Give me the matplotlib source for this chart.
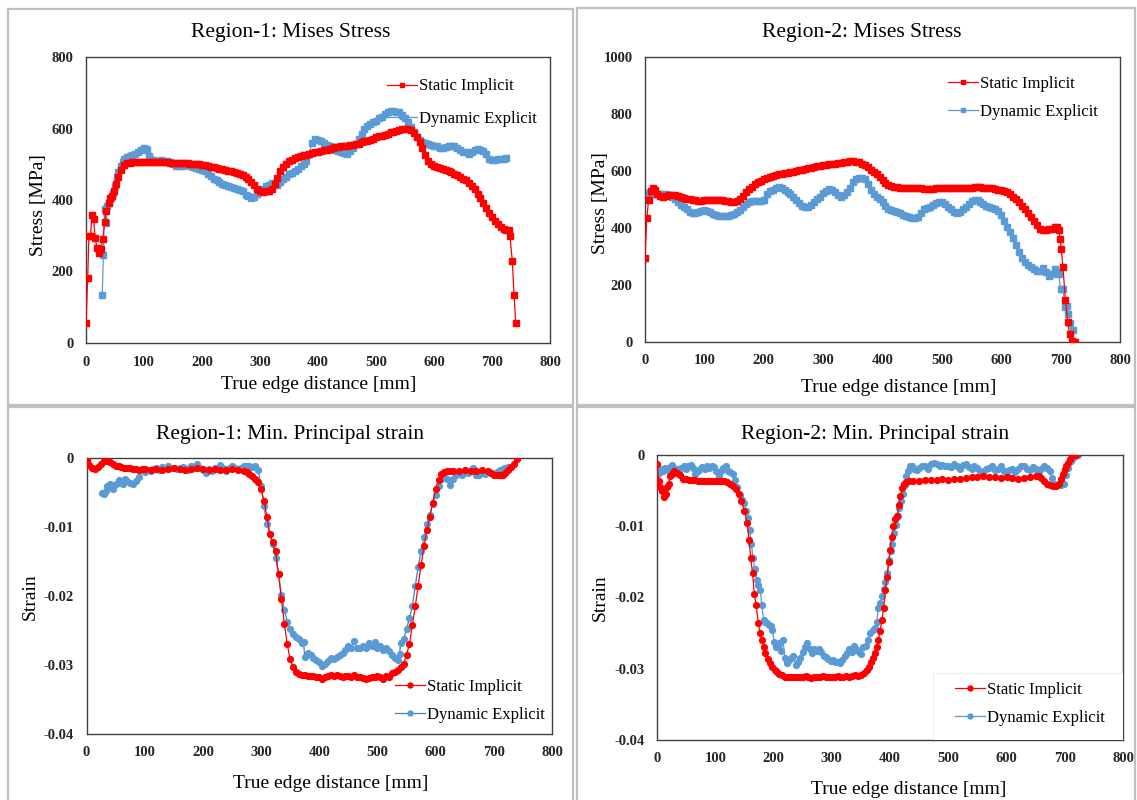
import matplotlib
matplotlib.use("Agg")
import matplotlib.pyplot as plt
from matplotlib.patches import Rectangle

plt.rcParams["font.family"] = ["Liberation Serif", "DejaVu Serif"]

RED = "#FF0000"
BLUE = "#5B9BD5"
BLUE_DARK = "#4A7EBB"
LABELS = ["Static Implicit", "Dynamic Explicit"]
XTICKS = [0, 100, 200, 300, 400, 500, 600, 700, 800]

# ---------------- Region-1: Mises stress ----------------
r1_static_x = [0, 3, 5, 8, 10, 13, 16, 19, 22, 26, 29, 32, 35, 39, 42, 45, 48, 52, 56, 60, 65, 70,
               75, 80, 85, 90, 95, 100, 105, 110, 115, 120, 125, 130, 135, 140, 145, 150, 155, 160,
               165, 170, 175, 180, 185, 190, 195, 200, 205, 210, 215, 220, 225, 230, 235, 240, 245,
               250, 255, 260, 265, 270, 275, 280, 285, 290, 295, 300, 305, 310, 315, 320, 325, 330,
               335, 340, 345, 350, 355, 360, 365, 370, 375, 380, 385, 390, 395, 400, 405, 410, 415,
               420, 425, 430, 435, 440, 445, 450, 455, 460, 465, 470, 475, 480, 485, 490, 495, 500,
               505, 510, 515, 520, 525, 530, 535, 540, 545, 550, 555, 560, 565, 570, 575, 580, 585,
               590, 595, 600, 605, 610, 615, 620, 625, 630, 635, 640, 645, 650, 655, 660, 665, 670,
               675, 680, 685, 690, 695, 700, 705, 710, 715, 720, 725, 729, 731, 735, 738, 741]
r1_static_y = [55, 183, 300, 300, 357, 347, 293, 265, 253, 263, 290, 338, 370, 393, 405, 412, 425, 445,
               465, 485, 497, 503, 504, 505, 506, 506, 507, 507, 506, 505, 505, 505, 505, 505, 505,
               505, 504, 504, 504, 503, 503, 503, 503, 502, 502, 501, 500, 499, 497, 495, 493, 492,
               490, 488, 486, 484, 482, 480, 478, 476, 473, 469, 464, 458, 450, 441, 432, 426, 423,
               424, 426, 432, 445, 462, 480, 492, 502, 508, 513, 517, 520, 523, 525, 527, 529, 531,
               533, 535, 537, 539, 541, 543, 545, 547, 549, 550, 551, 552, 553, 555, 556, 558, 561,
               564, 566, 569, 572, 575, 578, 580, 583, 586, 589, 591, 594, 596, 598, 600, 599, 596,
               588, 575, 562, 545, 525, 508, 500, 496, 493, 490, 488, 485, 481, 477, 473, 469, 465,
               460, 455, 448, 440, 430, 418, 405, 392, 378, 364, 352, 341, 332, 325, 319, 316,
               316, 298, 230, 135, 55]

r1_dynamic_x = [28, 30, 32, 35, 37, 40, 43, 46, 50, 53, 56, 60, 63, 66, 70, 75, 80, 85, 90, 95, 100,
                103, 106, 108, 110, 115, 120, 125, 130, 135, 140, 145, 150, 155, 160, 165, 170, 175,
                180, 185, 190, 195, 200, 205, 210, 215, 220, 225, 230, 235, 240, 245, 250, 255, 260,
                265, 270, 275, 280, 285, 290, 295, 300, 305, 310, 315, 320, 325, 330, 335, 340, 345,
                350, 355, 360, 365, 370, 375, 380, 385, 390, 395, 400, 405, 410, 415, 420, 425, 430,
                435, 440, 445, 450, 455, 460, 465, 470, 475, 480, 485, 490, 495, 500, 505, 510, 515,
                520, 525, 530, 535, 540, 545, 550, 555, 560, 565, 570, 575, 580, 585, 590, 595, 600,
                605, 610, 615, 620, 625, 630, 635, 640, 645, 650, 655, 660, 665, 670, 675, 680, 685,
                690, 695, 700, 705, 710, 715, 720, 725]
r1_dynamic_y = [133, 246, 375, 336, 383, 392, 405, 420, 440, 465, 478, 495, 505, 515, 520, 523, 525,
                528, 533, 540, 545, 543, 540, 522, 515, 512, 510, 510, 512, 510, 510, 505, 500, 495,
                494, 495, 498, 498, 496, 493, 490, 487, 484, 480, 472, 467, 460, 455, 450, 445, 442,
                440, 437, 434, 432, 428, 424, 415, 410, 405, 408, 418, 425, 432, 438, 442, 448, 445,
                443, 450, 458, 465, 472, 476, 482, 488, 495, 500, 508, 530, 560, 570, 568, 565, 560,
                555, 552, 547, 540, 537, 535, 532, 530, 538, 545, 558, 570, 585, 598, 606, 613, 618,
                622, 628, 633, 640, 645, 648, 650, 647, 645, 638, 628, 618, 605, 590, 575, 568, 563,
                560, 558, 555, 552, 550, 545, 545, 548, 550, 552, 550, 545, 540, 535, 533, 530, 535,
                540, 543, 540, 538, 528, 515, 512, 513, 515, 515, 516, 517]

# ---------------- Region-2: Mises stress ----------------
r2_static_x = [0, 3, 6, 10, 13, 17, 20, 25, 30, 35, 40, 45, 50, 55, 60, 65, 70, 75, 80, 85, 90, 95,
               100, 105, 110, 115, 120, 125, 130, 135, 140, 145, 150, 155, 160, 165, 170, 175, 180,
               185, 190, 195, 200, 205, 210, 215, 220, 225, 230, 235, 240, 245, 250, 255, 260, 265,
               270, 275, 280, 285, 290, 295, 300, 305, 310, 315, 320, 325, 330, 335, 340, 345, 350,
               355, 360, 365, 370, 375, 380, 385, 390, 395, 400, 405, 410, 415, 420, 425, 430, 435,
               440, 445, 450, 455, 460, 465, 470, 475, 480, 485, 490, 495, 500, 505, 510, 515, 520,
               525, 530, 535, 540, 545, 550, 555, 560, 565, 570, 575, 580, 585, 590, 595, 600, 605,
               610, 615, 620, 625, 630, 635, 640, 645, 650, 655, 660, 665, 670, 675, 680, 685, 690,
               694, 697, 699, 701, 704, 708, 712, 715, 719, 722, 725]
r2_static_y = [293, 434, 498, 530, 542, 533, 520, 512, 510, 512, 515, 516, 515, 512, 510, 505, 502,
               500, 498, 497, 496, 496, 497, 498, 498, 499, 499, 498, 497, 495, 493, 491, 490, 493,
               500, 512, 525, 536, 545, 553, 560, 566, 571, 575, 579, 583, 586, 588, 590, 592, 594,
               596, 598, 600, 603, 605, 608, 610, 612, 614, 616, 618, 620, 622, 623, 625, 626, 627,
               628, 630, 632, 634, 634, 633, 630, 626, 620, 613, 605, 597, 588, 578, 568, 558, 552,
               548, 545, 543, 542, 541, 540, 540, 539, 539, 539, 539, 538, 538, 538, 538, 539, 539,
               539, 540, 540, 540, 540, 540, 540, 541, 541, 542, 542, 543, 543, 543, 542, 541, 540,
               539, 537, 535, 533, 530, 525, 518, 510, 500, 490, 478, 465, 452, 440, 425, 410, 398,
               394, 394, 395, 398, 402, 405, 393, 360, 328, 262, 147, 70, 29, 4, 0, 0]

r2_dynamic_x = [0, 5, 10, 15, 20, 25, 30, 35, 40, 45, 50, 55, 60, 65, 70, 75, 80, 85, 90, 95, 100,
                105, 110, 115, 120, 125, 130, 135, 140, 145, 150, 155, 160, 165, 170, 175, 180, 185,
                190, 195, 200, 205, 210, 215, 220, 225, 230, 235, 240, 245, 250, 255, 260, 265, 270,
                275, 280, 285, 290, 295, 300, 305, 310, 315, 320, 325, 330, 335, 340, 345, 350, 355,
                360, 365, 370, 375, 380, 385, 390, 395, 400, 405, 410, 415, 420, 425, 430, 435, 440,
                445, 450, 455, 460, 465, 470, 475, 480, 485, 490, 495, 500, 505, 510, 515, 520, 525,
                530, 535, 540, 545, 550, 555, 560, 565, 570, 575, 580, 585, 590, 595, 600, 605, 610,
                615, 620, 625, 630, 635, 640, 645, 650, 655, 660, 665, 670, 675, 680, 685, 690, 694,
                697, 700, 704, 707, 710, 713, 716, 720]
r2_dynamic_y = [522, 522, 520, 520, 518, 518, 518, 518, 517, 510, 500, 490, 482, 473, 465, 455, 452,
                453, 457, 460, 462, 458, 455, 450, 446, 443, 442, 442, 443, 446, 450, 455, 462, 472,
                483, 490, 493, 494, 495, 496, 498, 518, 530, 535, 540, 543, 540, 535, 528, 520, 508,
                498, 487, 478, 474, 475, 480, 490, 500, 510, 522, 530, 536, 533, 525, 515, 510, 515,
                528, 540, 560, 572, 575, 574, 572, 555, 535, 520, 510, 500, 490, 478, 467, 462, 458,
                455, 452, 447, 442, 437, 435, 436, 440, 452, 465, 470, 474, 480, 487, 492, 492, 485,
                475, 465, 457, 453, 455, 465, 475, 485, 493, 497, 498, 492, 485, 477, 472, 470, 468,
                460, 445, 425, 405, 385, 365, 340, 315, 295, 280, 270, 262, 255, 248, 250, 258, 245,
                230, 240, 255, 245, 238, 185, 185, 123, 125, 100, 65, 41]

# ---------------- Region-1: min. principal strain ----------------
r1_strain_static_x = [0, 5, 10, 15, 20, 25, 30, 35, 40, 45, 50, 55, 60, 65, 70, 75, 80, 85, 90, 95,
                      100, 110, 120, 130, 140, 150, 160, 170, 180, 190, 200, 210, 220, 230, 240,
                      250, 260, 270, 275, 280, 285, 290, 295, 300, 305, 310, 315, 320, 325, 330,
                      335, 340, 345, 350, 355, 360, 365, 370, 375, 380, 385, 390, 395, 400, 405,
                      410, 415, 420, 425, 430, 435, 440, 445, 450, 455, 460, 465, 470, 475, 480,
                      485, 490, 495, 500, 505, 510, 515, 520, 525, 530, 535, 540, 545, 550, 555,
                      560, 565, 570, 575, 580, 585, 590, 595, 600, 605, 610, 615, 620, 625, 630,
                      640, 650, 660, 670, 680, 690, 695, 700, 705, 710, 715, 720, 725, 730, 735, 740]
r1_strain_static_y = [-0.0003, -0.0010, -0.0014, -0.0016, -0.0013, -0.0008, -0.0005, -0.0004,
                      -0.0006, -0.0009, -0.0011, -0.0012, -0.0013, -0.0014, -0.0015, -0.0015,
                      -0.0016, -0.0016, -0.0017, -0.0016, -0.0016, -0.0017, -0.0016, -0.0017,
                      -0.0016, -0.0015, -0.0016, -0.0017, -0.0016, -0.0015, -0.0016, -0.0017,
                      -0.0016, -0.0017, -0.0017, -0.0016, -0.0017, -0.0019, -0.0020, -0.0023,
                      -0.0026, -0.0030, -0.0035, -0.0045, -0.0062, -0.0085, -0.0110, -0.0122,
                      -0.0135, -0.0168, -0.0205, -0.0240, -0.0270, -0.0292, -0.0303, -0.0310,
                      -0.0313, -0.0314, -0.0315, -0.0316, -0.0316, -0.0316, -0.0317, -0.0318,
                      -0.0320, -0.0317, -0.0316, -0.0315, -0.0316, -0.0315, -0.0316, -0.0317,
                      -0.0316, -0.0316, -0.0317, -0.0315, -0.0318, -0.0317, -0.0319, -0.0321,
                      -0.0319, -0.0317, -0.0318, -0.0316, -0.0318, -0.0320, -0.0316, -0.0318,
                      -0.0312, -0.0310, -0.0307, -0.0303, -0.0298, -0.0285, -0.0270, -0.0242,
                      -0.0215, -0.0185, -0.0155, -0.0128, -0.0105, -0.0085, -0.0065, -0.0045,
                      -0.0032, -0.0023, -0.0020, -0.0019, -0.0019, -0.0019, -0.0019, -0.0018,
                      -0.0019, -0.0019, -0.0018, -0.0019, -0.0022, -0.0024, -0.0025, -0.0025,
                      -0.0024, -0.0022, -0.0018, -0.0013, -0.0008, -0.0001]

r1_strain_dynamic_x = [26, 30, 33, 36, 40, 43, 46, 50, 55, 58, 62, 66, 70, 75, 80, 85, 90, 95, 100,
                       105, 110, 115, 120, 125, 130, 135, 140, 145, 150, 155, 160, 165, 170, 175,
                       180, 185, 190, 195, 200, 205, 210, 215, 220, 225, 230, 235, 240, 245, 250,
                       255, 260, 265, 270, 275, 280, 285, 290, 295, 300, 305, 310, 315, 320, 325,
                       330, 335, 340, 345, 350, 355, 360, 365, 370, 373, 375, 380, 385, 390, 395,
                       400, 405, 410, 415, 420, 425, 430, 435, 440, 445, 450, 455, 460, 465, 470,
                       475, 480, 485, 490, 495, 500, 505, 510, 515, 520, 525, 530, 535, 538, 540,
                       545, 550, 555, 560, 565, 570, 575, 580, 585, 590, 595, 600, 605, 610, 615,
                       620, 625, 630, 635, 640, 645, 650, 655, 660, 665, 670, 675, 680, 685, 690,
                       695, 700, 705, 710, 715, 720, 725]
r1_strain_dynamic_y = [-0.0051, -0.0052, -0.0048, -0.0040, -0.0038, -0.0043, -0.0045, -0.0038,
                       -0.0032, -0.0036, -0.0037, -0.0031, -0.0033, -0.0036, -0.0038, -0.0033,
                       -0.0027, -0.0018, -0.0021, -0.0017, -0.0019, -0.0016, -0.0015, -0.0017,
                       -0.0013, -0.0014, -0.0012, -0.0015, -0.0014, -0.0016, -0.0014, -0.0013,
                       -0.0015, -0.0017, -0.0012, -0.0015, -0.0008, -0.0014, -0.0018, -0.0022,
                       -0.0016, -0.0019, -0.0014, -0.0016, -0.0010, -0.0015, -0.0019, -0.0014,
                       -0.0012, -0.0015, -0.0016, -0.0014, -0.0012, -0.0011, -0.0012, -0.0013,
                       -0.0011, -0.0018, -0.0040, -0.0070, -0.0095, -0.0110, -0.0125, -0.0145,
                       -0.0168, -0.0198, -0.0220, -0.0237, -0.0248, -0.0255, -0.0260, -0.0262,
                       -0.0268, -0.0266, -0.0288, -0.0283, -0.0285, -0.0290, -0.0293, -0.0296,
                       -0.0302, -0.0298, -0.0294, -0.0290, -0.0292, -0.0288, -0.0285, -0.0283,
                       -0.0278, -0.0273, -0.0275, -0.0265, -0.0276, -0.0275, -0.0272, -0.0276,
                       -0.0268, -0.0273, -0.0266, -0.0275, -0.0272, -0.0278, -0.0276, -0.0280,
                       -0.0286, -0.0290, -0.0293, -0.0284, -0.0268, -0.0262, -0.0248, -0.0232,
                       -0.0215, -0.0185, -0.0158, -0.0135, -0.0115, -0.0095, -0.0082, -0.0066,
                       -0.0053, -0.0040, -0.0030, -0.0027, -0.0030, -0.0039, -0.0031, -0.0025,
                       -0.0022, -0.0024, -0.0020, -0.0022, -0.0017, -0.0015, -0.0024, -0.0025,
                       -0.0020, -0.0023, -0.0020, -0.0022, -0.0024, -0.0020, -0.0018, -0.0016,
                       -0.0014, -0.0013]

# ---------------- Region-2: min. principal strain ----------------
r2_strain_static_x = [0, 3, 6, 9, 12, 15, 18, 20, 23, 26, 30, 35, 40, 45, 50, 55, 60, 65, 70, 75,
                      80, 85, 90, 95, 100, 105, 110, 115, 120, 125, 130, 135, 140, 145, 150, 155,
                      158, 161, 164, 167, 170, 174, 177, 180, 183, 186, 190, 194, 198, 202, 206,
                      210, 215, 220, 225, 230, 235, 240, 245, 250, 255, 260, 265, 270, 275, 280,
                      285, 290, 295, 300, 305, 310, 315, 320, 325, 330, 335, 340, 345, 350, 355,
                      360, 364, 368, 371, 374, 377, 380, 383, 386, 389, 392, 395, 398, 400, 403,
                      406, 409, 412, 415, 418, 421, 424, 428, 432, 440, 450, 460, 470, 480, 490,
                      500, 510, 520, 530, 540, 550, 560, 570, 580, 590, 600, 610, 620, 630, 640,
                      650, 655, 660, 665, 670, 675, 680, 685, 690, 694, 697, 700, 703, 706, 709,
                      712, 716, 720]
r2_strain_static_y = [-0.0012, -0.0037, -0.0045, -0.0051, -0.0059, -0.0055, -0.0045, -0.0040,
                      -0.0030, -0.0026, -0.0023, -0.0025, -0.0028, -0.0033, -0.0034, -0.0035,
                      -0.0035, -0.0035, -0.0036, -0.0036, -0.0036, -0.0036, -0.0037, -0.0037,
                      -0.0037, -0.0037, -0.0037, -0.0037, -0.0038, -0.0040, -0.0043, -0.0048,
                      -0.0055, -0.0064, -0.0078, -0.0096, -0.0119, -0.0145, -0.0166, -0.0195,
                      -0.0210, -0.0236, -0.0250, -0.0260, -0.0270, -0.0278, -0.0286, -0.0292,
                      -0.0298, -0.0302, -0.0305, -0.0307, -0.0309, -0.0311, -0.0311, -0.0311,
                      -0.0312, -0.0311, -0.0312, -0.0311, -0.0310, -0.0311, -0.0313, -0.0311,
                      -0.0311, -0.0311, -0.0310, -0.0311, -0.0311, -0.0311, -0.0311, -0.0310,
                      -0.0311, -0.0311, -0.0310, -0.0311, -0.0310, -0.0309, -0.0310, -0.0309,
                      -0.0306, -0.0302, -0.0297, -0.0291, -0.0285, -0.0278, -0.0270, -0.0260,
                      -0.0247, -0.0232, -0.0215, -0.0190, -0.0171, -0.0150, -0.0133, -0.0115,
                      -0.0100, -0.0090, -0.0085, -0.0070, -0.0058, -0.0047, -0.0041, -0.0038,
                      -0.0037, -0.0036, -0.0036, -0.0035, -0.0035, -0.0035, -0.0034, -0.0035,
                      -0.0034, -0.0033, -0.0032, -0.0031, -0.0031, -0.0030, -0.0031, -0.0031,
                      -0.0032, -0.0031, -0.0032, -0.0033, -0.0032, -0.0031, -0.0030, -0.0030,
                      -0.0032, -0.0036, -0.0040, -0.0042, -0.0044, -0.0043, -0.0040, -0.0033,
                      -0.0026, -0.0020, -0.0015, -0.0011, -0.0006, -0.0002, 0.0, 0.0]

r2_strain_dynamic_x = [0, 3, 5, 8, 11, 14, 17, 20, 23, 26, 30, 34, 38, 42, 46, 50, 54, 58, 62, 66,
                       70, 74, 78, 82, 86, 90, 94, 98, 102, 106, 110, 114, 118, 122, 126, 130, 134,
                       138, 142, 146, 150, 153, 156, 159, 162, 165, 168, 171, 174, 177, 180, 183,
                       186, 189, 192, 195, 198, 201, 204, 207, 210, 213, 216, 220, 223, 226, 230,
                       234, 238, 242, 246, 250, 254, 258, 262, 266, 270, 274, 278, 282, 286, 290,
                       294, 298, 302, 306, 310, 314, 318, 322, 326, 330, 334, 338, 342, 346, 350,
                       354, 358, 362, 366, 370, 374, 377, 380, 383, 386, 389, 392, 395, 398, 401,
                       404, 407, 410, 413, 416, 419, 422, 425, 428, 431, 434, 438, 442, 446, 450,
                       455, 460, 465, 470, 475, 480, 485, 490, 495, 500, 505, 510, 515, 520, 525,
                       530, 535, 540, 545, 550, 555, 560, 565, 570, 575, 580, 585, 590, 595, 600,
                       605, 610, 615, 620, 625, 630, 635, 640, 645, 650, 655, 660, 665, 670, 675,
                       678, 682, 686, 690, 694, 698, 702, 706, 710, 714, 718, 722]
r2_strain_dynamic_y = [-0.0028, -0.0025, -0.0021, -0.0020, -0.0022, -0.0018, -0.0019, -0.0022,
                       -0.0017, -0.0014, -0.0019, -0.0019, -0.0022, -0.0018, -0.0016, -0.0019,
                       -0.0015, -0.0014, -0.0018, -0.0026, -0.0022, -0.0020, -0.0017, -0.0020,
                       -0.0015, -0.0018, -0.0016, -0.0017, -0.0022, -0.0030, -0.0023, -0.0018,
                       -0.0016, -0.0022, -0.0024, -0.0027, -0.0035, -0.0045, -0.0056, -0.0063,
                       -0.0068, -0.0078, -0.0088, -0.0105, -0.0125, -0.0145, -0.0160, -0.0175,
                       -0.0182, -0.0189, -0.0210, -0.0232, -0.0234, -0.0236, -0.0238, -0.0240,
                       -0.0245, -0.0262, -0.0269, -0.0268, -0.0264, -0.0275, -0.0260, -0.0285,
                       -0.0292, -0.0288, -0.0285, -0.0282, -0.0295, -0.0290, -0.0285, -0.0276,
                       -0.0270, -0.0264, -0.0272, -0.0278, -0.0272, -0.0275, -0.0272, -0.0276,
                       -0.0282, -0.0284, -0.0286, -0.0289, -0.0288, -0.0291, -0.0290, -0.0292,
                       -0.0288, -0.0282, -0.0278, -0.0272, -0.0276, -0.0268, -0.0272, -0.0276,
                       -0.0279, -0.0270, -0.0268, -0.0260, -0.0250, -0.0246, -0.0243, -0.0235,
                       -0.0215, -0.0208, -0.0198, -0.0188, -0.0178, -0.0165, -0.0148, -0.0135,
                       -0.0125, -0.0110, -0.0098, -0.0086, -0.0075, -0.0065, -0.0055, -0.0042,
                       -0.0030, -0.0022, -0.0016, -0.0015, -0.0019, -0.0021, -0.0018, -0.0015,
                       -0.0016, -0.0019, -0.0013, -0.0011, -0.0013, -0.0015, -0.0014, -0.0016,
                       -0.0015, -0.0017, -0.0013, -0.0016, -0.0019, -0.0014, -0.0013, -0.0017,
                       -0.0020, -0.0016, -0.0018, -0.0022, -0.0024, -0.0020, -0.0018, -0.0016,
                       -0.0021, -0.0019, -0.0016, -0.0023, -0.0025, -0.0021, -0.0019, -0.0024,
                       -0.0020, -0.0016, -0.0015, -0.0019, -0.0021, -0.0017, -0.0020, -0.0022,
                       -0.0019, -0.0016, -0.0018, -0.0022, -0.0032, -0.0040, -0.0042, -0.0041,
                       -0.0042, -0.0040, -0.0028, -0.0018, -0.0009, -0.0004, -0.0001, 0.0]

W, H = 1137, 800
fig = plt.figure(figsize=(W / 100, H / 100), dpi=100)
fig.patch.set_facecolor("white")


def px_rect(x0, y0, x1, y1):
    """Axes rectangle from pixel edges (origin top-left)."""
    return [x0 / W, 1 - y1 / H, (x1 - x0) / W, (y1 - y0) / H]


# light grey frames around the four chart areas
for (x0, y0, x1, y1) in [(8, 9, 573, 405), (577, 8, 1135, 405),
                         (8, 407, 573, 803), (577, 407, 1135, 803)]:
    fig.patches.append(Rectangle((x0 / W, 1 - y1 / H), (x1 - x0) / W, (y1 - y0) / H,
                                 transform=fig.transFigure, fill=False,
                                 edgecolor="#BFBFBF", linewidth=1.6))


def style_axes(ax, ylim, yticks, yticklabels):
    ax.set_xlim(0, 800)
    ax.set_ylim(*ylim)
    ax.set_xticks(XTICKS)
    ax.set_xticklabels([str(v) for v in XTICKS])
    ax.set_yticks(yticks)
    ax.set_yticklabels(yticklabels)
    ax.tick_params(length=0, labelsize=10.5, pad=9)
    for lab in ax.get_xticklabels() + ax.get_yticklabels():
        lab.set_fontweight("bold")
        lab.set_color("#262626")
    for sp in ax.spines.values():
        sp.set_color("#404040")
        sp.set_linewidth(1.0)


def plot_pair(ax, xs, ys, xd, yd, marker, dyn_line, ms):
    ax.plot(xs, ys, color=RED, lw=0.9, marker=marker, ms=ms, mec=RED, mfc=RED,
            label=LABELS[0], zorder=3)
    ax.plot(xd, yd, color=dyn_line, lw=0.9, marker=marker, ms=ms, mec=BLUE, mfc=BLUE,
            label=LABELS[1], zorder=2)


title_kw = dict(fontsize=15.5, ha="center", va="center", color="black")
xlab_kw = dict(fontsize=14, ha="center", va="center")
ylab_kw = dict(fontsize=14, ha="center", va="center", rotation=90)
leg_kw = dict(frameon=False, fontsize=12, handlelength=1.8, handletextpad=0.15,
              borderpad=0.0, borderaxespad=0.0, labelspacing=0.75, markerscale=0.85)

# Panel: Region-1 Mises stress
ax1 = fig.add_axes(px_rect(86, 57, 550, 343))
plot_pair(ax1, r1_static_x, r1_static_y, r1_dynamic_x, r1_dynamic_y, "s", BLUE, 4.0)
style_axes(ax1, (0, 800), [0, 200, 400, 600, 800], ["0", "200", "400", "600", "800"])
ax1.legend(loc="upper left", bbox_to_anchor=(0.648, 0.925), **{**leg_kw, "labelspacing": 1.0})
fig.text(291 / W, 1 - 33 / H, "Region-1: Mises Stress", **title_kw)
fig.text(319 / W, 1 - 385 / H, "True edge distance [mm]", **xlab_kw)
fig.text(38 / W, 1 - 205 / H, "Stress [MPa]", **ylab_kw)

# Panel: Region-2 Mises stress
ax2 = fig.add_axes(px_rect(645, 57, 1120, 342))
plot_pair(ax2, r2_static_x, r2_static_y, r2_dynamic_x, r2_dynamic_y, "s", BLUE, 4.0)
style_axes(ax2, (0, 1000), [0, 200, 400, 600, 800, 1000],
           ["0", "200", "400", "600", "800", "1000"])
ax2.legend(loc="upper left", bbox_to_anchor=(0.637, 0.935), **leg_kw)
fig.text(862 / W, 1 - 32 / H, "Region-2: Mises Stress", **title_kw)
fig.text(899 / W, 1 - 387 / H, "True edge distance [mm]", **xlab_kw)
fig.text(600 / W, 1 - 203 / H, "Stress [MPa]", **ylab_kw)

strain_ticks = [-0.04, -0.03, -0.02, -0.01, 0]
strain_labels = ["-0.04", "-0.03", "-0.02", "-0.01", "0"]

# Panel: Region-1 min. principal strain
ax3 = fig.add_axes(px_rect(86.5, 458, 552, 734))
plot_pair(ax3, r1_strain_static_x, r1_strain_static_y,
          r1_strain_dynamic_x, r1_strain_dynamic_y, "o", BLUE_DARK, 4.2)
style_axes(ax3, (-0.04, 0), strain_ticks, strain_labels)
ax3.legend(loc="upper left", bbox_to_anchor=(0.662, 0.2), **leg_kw)
fig.text(290 / W, 1 - 434 / H, "Region-1: Min. Principal strain", **title_kw)
fig.text(331 / W, 1 - 784 / H, "True edge distance [mm]", **xlab_kw)
fig.text(30 / W, 1 - 597 / H, "Strain", **ylab_kw)

# Panel: Region-2 min. principal strain
ax4 = fig.add_axes(px_rect(657, 455, 1123, 740))
plot_pair(ax4, r2_strain_static_x, r2_strain_static_y,
          r2_strain_dynamic_x, r2_strain_dynamic_y, "o", BLUE, 4.2)
style_axes(ax4, (-0.04, 0), strain_ticks, strain_labels)
# faint white backing behind the legend
ax4.add_patch(Rectangle((0.592, 0.0), 0.408, 0.235, transform=ax4.transAxes,
                        facecolor="white", edgecolor="#EFEFEF", linewidth=0.8, zorder=4))
leg4 = ax4.legend(loc="upper left", bbox_to_anchor=(0.639, 0.205), **leg_kw)
leg4.set_zorder(5)
fig.text(875 / W, 1 - 435 / H, "Region-2: Min. Principal strain", **title_kw)
fig.text(909 / W, 1 - 789 / H, "True edge distance [mm]", **xlab_kw)
fig.text(600 / W, 1 - 598 / H, "Strain", **ylab_kw)

fig.savefig("out.png", dpi=100, facecolor="white")
